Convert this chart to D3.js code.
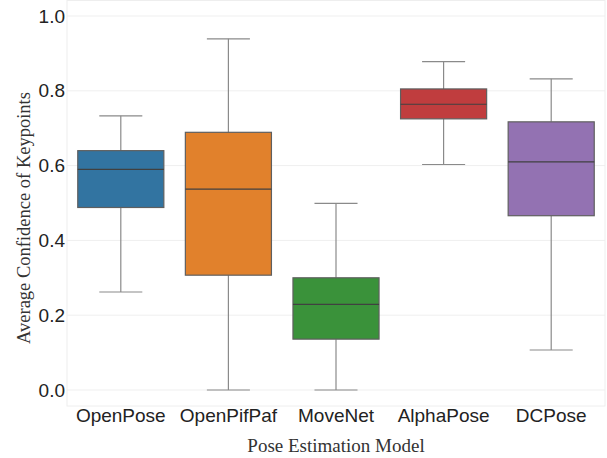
<!DOCTYPE html>
<html>
<head>
<meta charset="utf-8">
<script src="https://d3js.org/d3.v7.min.js"></script>
<style>
  body { margin: 0; background: #fff; }
</style>
</head>
<body>
<script>
// box statistics
var models = ["OpenPose", "OpenPifPaf", "MoveNet", "AlphaPose", "DCPose"];
var whiskerLow  = [0.262, 0.000, 0.000, 0.603, 0.107];
var q1          = [0.488, 0.307, 0.136, 0.725, 0.466];
var median      = [0.590, 0.537, 0.229, 0.764, 0.610];
var q3          = [0.640, 0.689, 0.300, 0.805, 0.717];
var whiskerHigh = [0.733, 0.939, 0.499, 0.878, 0.832];
var colors = ["#3274a1", "#e1812c", "#3a923a", "#c03d3e", "#9372b2"];
var yTicks = [0, 0.2, 0.4, 0.6, 0.8, 1.0];

var w = 607, h = 458;
var plotLeft = 67, plotRight = 605, plotTop = 0, plotBottom = 406;

var data = models.map((m, i) => ({
  name: m, lo: whiskerLow[i], q1: q1[i], med: median[i], q3: q3[i], hi: whiskerHigh[i], color: colors[i]
}));

var x = d3.scaleBand().domain(models).range([plotLeft, plotRight]).paddingInner(0).paddingOuter(0);
var y = d3.scaleLinear().domain([-0.0428, 1.0428]).range([plotBottom, plotTop]);
var bw = x.bandwidth() * 0.8;

var svg = d3.select("body").append("svg")
  .attr("width", w).attr("height", h);

// gridlines
svg.append("g").selectAll("line").data(yTicks).enter().append("line")
  .attr("x1", plotLeft).attr("x2", plotRight)
  .attr("y1", d => y(d)).attr("y2", d => y(d))
  .attr("stroke", "#efefef").attr("stroke-width", 1);

// frame
svg.append("rect")
  .attr("x", plotLeft).attr("y", plotTop + 0.5)
  .attr("width", plotRight - plotLeft).attr("height", plotBottom - plotTop - 0.5)
  .attr("fill", "none").attr("stroke", "#eeeeee").attr("stroke-width", 1);

var g = svg.append("g").selectAll("g").data(data).enter().append("g");
var cx = d => x(d.name) + x.bandwidth() / 2;

// whiskers
g.append("line")
  .attr("x1", cx).attr("x2", cx)
  .attr("y1", d => y(d.hi)).attr("y2", d => y(d.q3))
  .attr("stroke", "#8a8a8a").attr("stroke-width", 1.2);
g.append("line")
  .attr("x1", cx).attr("x2", cx)
  .attr("y1", d => y(d.q1)).attr("y2", d => y(d.lo))
  .attr("stroke", "#8a8a8a").attr("stroke-width", 1.2);
// caps
g.append("line")
  .attr("x1", d => cx(d) - bw / 4).attr("x2", d => cx(d) + bw / 4)
  .attr("y1", d => y(d.hi)).attr("y2", d => y(d.hi))
  .attr("stroke", "#8a8a8a").attr("stroke-width", 1.2);
g.append("line")
  .attr("x1", d => cx(d) - bw / 4).attr("x2", d => cx(d) + bw / 4)
  .attr("y1", d => y(d.lo)).attr("y2", d => y(d.lo))
  .attr("stroke", "#8a8a8a").attr("stroke-width", 1.2);

// boxes
g.append("rect")
  .attr("x", d => cx(d) - bw / 2)
  .attr("y", d => y(d.q3))
  .attr("width", bw)
  .attr("height", d => y(d.q1) - y(d.q3))
  .attr("fill", d => d.color)
  .attr("stroke", "#5f5f5f").attr("stroke-width", 1.2);

// medians
g.append("line")
  .attr("x1", d => cx(d) - bw / 2).attr("x2", d => cx(d) + bw / 2)
  .attr("y1", d => y(d.med)).attr("y2", d => y(d.med))
  .attr("stroke", "#404040").attr("stroke-width", 1.2);

// y tick labels
svg.append("g").selectAll("text").data(yTicks).enter().append("text")
  .attr("x", 65).attr("y", d => y(d))
  .attr("dy", "0.35em")
  .attr("text-anchor", "end")
  .attr("font-family", "Liberation Sans, Arial, sans-serif")
  .attr("font-size", 19)
  .attr("fill", "#222")
  .text(d => d3.format(".1f")(d));

// x tick labels
svg.append("g").selectAll("text").data(models).enter().append("text")
  .attr("x", d => x(d) + x.bandwidth() / 2).attr("y", 422)
  .attr("text-anchor", "middle")
  .attr("font-family", "Liberation Sans, Arial, sans-serif")
  .attr("font-size", 19)
  .attr("fill", "#222")
  .text(d => d);

// axis titles
svg.append("text")
  .attr("x", (plotLeft + plotRight) / 2).attr("y", 452)
  .attr("text-anchor", "middle")
  .attr("font-family", "Liberation Serif, Times New Roman, serif")
  .attr("font-size", 19)
  .attr("fill", "#333")
  .text("Pose Estimation Model");

svg.append("text")
  .attr("transform", "translate(30,218) rotate(-90)")
  .attr("text-anchor", "middle")
  .attr("font-family", "Liberation Serif, Times New Roman, serif")
  .attr("font-size", 18.5)
  .attr("fill", "#333")
  .text("Average Confidence of Keypoints");
</script>
</body>
</html>
